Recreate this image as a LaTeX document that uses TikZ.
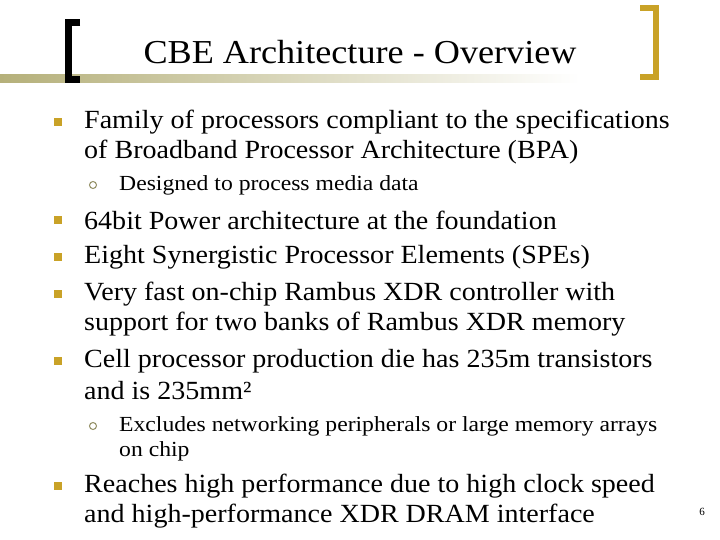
\documentclass[tikz,border=0pt]{standalone}
\usepackage{fontspec}
\setmainfont{Liberation Serif}
\usepackage{xcolor}
\definecolor{gold}{HTML}{C9A227}
\definecolor{olive}{HTML}{B5B07A}
\begin{document}
\begin{tikzpicture}[x=1pt,y=-1pt,
  body/.style={anchor=west,inner sep=0pt,xscale=1.07,font=\fontsize{26.2}{30}\selectfont},
  sub/.style={anchor=west,inner sep=0pt,xscale=1.1,font=\fontsize{21.5}{24}\selectfont},
  sq/.style={fill=gold,minimum size=8pt,inner sep=0pt},
  circ/.style={circle,draw=olive!80!black,line width=1pt,minimum size=7pt,inner sep=0pt}]
\useasboundingbox[fill=white] (0,0) rectangle (720,540);
\shade[left color=olive,right color=white] (0,75) rectangle (580,83);
\fill[white] (580,75) rectangle (720,83);
\draw[line width=7pt] (80,23) -- (68,23) -- (68,80) -- (80,80);
\draw[gold,line width=6pt] (640,8) -- (656,8) -- (656,77) -- (640,77);
\node[inner sep=0pt,xscale=1.08,font=\fontsize{33.5}{38}\selectfont] (title) at (360,52) {CBE Architecture - Overview};
\node[sq] (b1) at (58,122) {};
\node[body] (t1a) at (84,122) {Family of processors compliant to the specifications};
\node[body] (t1b) at (84,152) {of Broadband Processor Architecture (BPA)};
\node[circ] (c1) at (93,185) {};
\node[sub] (s1) at (119,185) {Designed to process media data};
\node[sq] (b2) at (58,220) {};
\node[body] (t2) at (84,220) {64bit Power architecture at the foundation};
\node[sq] (b3) at (58,257) {};
\node[body] (t3) at (84,257) {Eight Synergistic Processor Elements (SPEs)};
\node[sq] (b4) at (58,294) {};
\node[body] (t4a) at (84,294) {Very fast on-chip Rambus XDR controller with};
\node[body] (t4b) at (84,324) {support for two banks of Rambus XDR memory};
\node[sq] (b5) at (58,361) {};
\node[body] (t5a) at (84,361) {Cell processor production die has 235m transistors};
\node[body] (t5b) at (84,391) {and is 235mm²};
\node[circ] (c2) at (93,426) {};
\node[sub] (s2a) at (119,426) {Excludes networking peripherals or large memory arrays};
\node[sub] (s2b) at (119,451) {on chip};
\node[sq] (b6) at (58,486) {};
\node[body] (t6a) at (84,486) {Reaches high performance due to high clock speed};
\node[body] (t6b) at (84,516) {and high-performance XDR DRAM interface};
\node[inner sep=0pt,font=\fontsize{11}{12}\selectfont] (pg) at (702,512) {6};
\end{tikzpicture}
\end{document}
